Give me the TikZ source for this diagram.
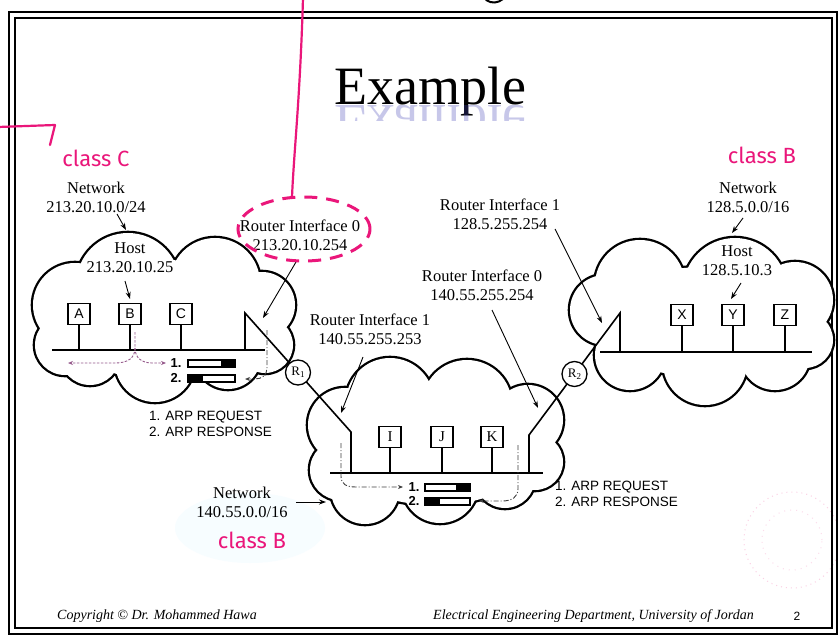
\documentclass[tikz,border=0pt]{standalone}
\usepackage{fontspec}
\usepackage{graphicx}
\setmainfont{Liberation Serif}
\setsansfont{Liberation Sans}
\newfontfamily\handfont{Fira Sans}
\usetikzlibrary{arrows.meta,calc}
\definecolor{pencol}{RGB}{234,22,122}
\definecolor{flowcol}{RGB}{150,90,140}
\newcommand\mycloud[1]{%
  \foreach \cx/\cy/\rx/\ry in {#1} {\draw[line width=4.6pt] (\cx,\cy) ellipse[x radius=\rx pt, y radius=\ry pt];}
  \foreach \cx/\cy/\rx/\ry in {#1} {\fill[white] (\cx,\cy) ellipse[x radius=\rx pt, y radius=\ry pt];}}
\begin{document}
\begin{tikzpicture}[x=1pt,y=-1pt,
  lbl/.style={align=center, inner sep=0pt, font=\fontsize{16.5}{19}\selectfont},
  arp/.style={align=left, anchor=west, inner sep=0pt, font=\sffamily\fontsize{13.5}{16}\selectfont},
  hostbox/.style={draw, line width=1.4pt, minimum width=22pt, minimum height=21pt, inner sep=0pt, fill=white, font=\sffamily\fontsize{14}{14}\selectfont},
  hostboxs/.style={hostbox, font=\fontsize{15}{15}\selectfont},
  rtr/.style={draw, circle, line width=1.3pt, minimum size=25pt, inner sep=0pt, fill=white, font=\fontsize{13}{13}\selectfont},
  wire/.style={line width=1.6pt},
  busline/.style={line width=2.3pt},
  lblarrow/.style={-{Stealth[length=7pt,width=5pt]}, line width=0.9pt},
  flowL/.style={-{Stealth[length=5pt,width=4pt]}, line width=0.9pt, flowcol, dash pattern=on 2.5pt off 1.5pt},
  flowD/.style={-{Stealth[length=5pt,width=4pt]}, line width=0.9pt, black!75, dash pattern=on 5pt off 2pt on 1pt off 2pt},
  num/.style={inner sep=0pt, font=\sffamily\bfseries\fontsize{13}{13}\selectfont},
  pen/.style={text=pencol, inner sep=0pt, font=\handfont\fontsize{22}{22}\selectfont},
  foot/.style={inner sep=0pt, anchor=west, font=\itshape\fontsize{14}{14}\selectfont}
]
\useasboundingbox (0,0) rectangle (838,639);
\fill[white] (0,0) rectangle (838,639);

% faint scan marks
\fill[cyan!3] (250,528) ellipse[x radius=75pt, y radius=35pt];
\draw[pencol!20, line width=1pt, dash pattern=on 1pt off 4pt] (792,540) circle[radius=48pt];
\draw[pencol!15, line width=1pt, dash pattern=on 1pt off 5pt] (792,540) circle[radius=30pt];

% frame
\draw[line width=2.6pt] (9,12) rectangle (837,634);
\draw[line width=1.6pt] (15,18) rectangle (832,628);

% title with reflection
\node[anchor=base, inner sep=0pt, font=\fontsize{54}{54}\selectfont] (title) at (430,105) {Example};
\begin{scope}
  \clip (300,106) rectangle (560,121);
  \node[anchor=base, inner sep=0pt, font=\fontsize{54}{54}\selectfont, text=blue!45!gray, opacity=0.3] (titlerefl) at (430,106) {\scalebox{1}[-1]{Example}};
\end{scope}

% clouds
\mycloud{165/320/110/60, 128/285/52/52, 215/283/45/45, 75/305/42/42, 65/345/30/30, 90/355/30/30, 155/362/40/40, 228/356/33/33, 262/305/33/33, 265/345/28/28}
\mycloud{435/445/105/60, 390/402/44/44, 467/405/45/45, 345/425/37/37, 340/470/30/30, 365/490/34/34, 440/485/38/38, 505/478/30/30, 528/420/35/35, 535/462/28/28}
\mycloud{705/322/110/55, 640/285/45/45, 735/290/52/52, 605/310/35/35, 795/300/38/38, 805/340/28/28, 630/355/35/35, 705/363/42/42, 775/355/35/35}

% ---------- left network ----------
\coordinate (bl1) at (52,350);
\coordinate (bl2) at (265,350);
\draw[busline] (bl1) -- (bl2);
\node[hostbox] (A) at (79,314) {A};
\node[hostbox] (B) at (130,314) {B};
\node[hostbox] (C) at (181,314) {C};
\foreach \h in {A,B,C} {\draw[wire] (\h.south) -- (\h.south |- bl1);}

% ---------- centre network ----------
\coordinate (bc1) at (330,473);
\coordinate (bc2) at (543,473);
\draw[busline] (bc1) -- (bc2);
\node[hostboxs] (I) at (390,437) {I};
\node[hostboxs] (J) at (442,437) {J};
\node[hostboxs] (K) at (492,437) {K};
\foreach \h in {I,J,K} {\draw[wire] (\h.south) -- (\h.south |- bc1);}

% ---------- right network ----------
\coordinate (br1) at (600,352);
\coordinate (br2) at (812,352);
\draw[busline] (br1) -- (br2);
\node[hostbox] (X) at (682,315) {X};
\node[hostbox] (Y) at (733,315) {Y};
\node[hostbox] (Z) at (785,315) {Z};
\foreach \h in {X,Y,Z} {\draw[wire] (\h.south) -- (\h.south |- br1);}

% ---------- routers ----------
\coordinate (r1a) at (245,313);
\coordinate (r1b) at (351,432);
\coordinate (r2a) at (620,313);
\coordinate (r2b) at (529,435);
\draw[wire] (r1a |- bl1) -- (r1a) -- (r1b) -- (r1b |- bc1);
\draw[wire] (r2a |- br1) -- (r2a) -- (r2b) -- (r2b |- bc1);
\node[rtr] (R1) at ($(r1a)!0.5!(r1b)$) {R\raisebox{-0.35ex}{\fontsize{9}{9}\selectfont 1}};
\node[rtr] (R2) at ($(r2a)!0.5!(r2b)$) {R\raisebox{-0.35ex}{\fontsize{9}{9}\selectfont 2}};

% ---------- packets left ----------
\node[num] (n1L) at (176,363) {1.};
\node[num] (n2L) at (176,378) {2.};
\draw[line width=1.1pt, fill=white] (188,360) rectangle (235,367);
\fill (221,360) rectangle (235,367);
\draw[line width=1.1pt, fill=white] (188,375) rectangle (235,382);
\fill (188,375) rectangle (203,382);
\coordinate (fl0) at (135,332);
\coordinate (flL) at (68,363);
\coordinate (flR) at (166,363);
\draw[flowL] (fl0) -- (135,348) .. controls (135,358) and (128,363) .. (115,363) -- (flL);
\draw[flowL] (135,348) .. controls (135,358) and (142,363) .. (152,363) -- (flR);
\coordinate (fr0) at (267,330);
\coordinate (fr1) at (245,379);
\draw[flowD] (fr0) -- (267,368) .. controls (267,375) and (262,379) .. (255,379) -- (fr1);

% ---------- packets centre ----------
\node[num] (n1C) at (414,487) {1.};
\node[num] (n2C) at (414,501) {2.};
\draw[line width=1.1pt, fill=white] (425,484) rectangle (470,491);
\fill (456,484) rectangle (470,491);
\draw[line width=1.1pt, fill=white] (425,498) rectangle (470,505);
\fill (425,498) rectangle (440,505);
\coordinate (fc0) at (341,443);
\coordinate (fc1) at (403,487);
\draw[flowD] (fc0) -- (341,476) .. controls (341,484) and (346,487) .. (356,487) -- (fc1);
\coordinate (fd0) at (518,445);
\coordinate (fd1) at (479,501);
\draw[flowD] (fd0) -- (518,489) .. controls (518,497) and (512,501) .. (502,501) -- (fd1);

% ---------- ARP texts ----------
\node[arp] (arpL) at (149,424) {1. ARP REQUEST\\2. ARP RESPONSE};
\node[arp] (arpC) at (555,494) {1. ARP REQUEST\\2. ARP RESPONSE};

% ---------- labels ----------
\node[lbl] (netC) at (96,197) {Network\\213.20.10.0/24};
\node[lbl] (hostC) at (130,258) {Host\\213.20.10.25};
\node[lbl] (ri0L) at (300,235) {Router Interface 0\\213.20.10.254};
\node[lbl] (ri1C) at (370,329) {Router Interface 1\\140.55.255.253};
\node[lbl] (ri0C) at (482,285) {Router Interface 0\\140.55.255.254};
\node[lbl] (ri1R) at (500,214) {Router Interface 1\\128.5.255.254};
\node[lbl] (netR) at (748,197) {Network\\128.5.0.0/16};
\node[lbl] (hostR) at (737,261) {Host\\128.5.10.3};
\node[lbl] (netM) at (242,502) {Network\\140.55.0.0/16};

\coordinate (e1) at (126,230);
\coordinate (e2) at (130,299);
\coordinate (e3) at (263,318);
\coordinate (e4) at (341,413);
\coordinate (e5) at (538,408);
\coordinate (e6) at (602,323);
\coordinate (e7) at (732,233);
\coordinate (e8) at (731,299);
\coordinate (e9) at (326,502);
\draw[lblarrow] (117,214) -- (e1);
\draw[lblarrow] (125,281) -- (e2);
\draw[lblarrow] (296,262) -- (e3);
\draw[lblarrow] (363,357) -- (e4);
\draw[lblarrow] (492,310) -- (e5);
\draw[lblarrow] (555,229) -- (e6);
\draw[lblarrow] (743,218) -- (e7);
\draw[lblarrow] (741,283) -- (e8);
\draw[lblarrow] (netM.east) ++(8,0) -- (e9);

% ---------- footer ----------
\node[foot] (copy) at (57,616) {Copyright \textcopyright\ Dr. Mohammed Hawa};
\node[foot] (dept) at (433,616) {Electrical Engineering Department, University of Jordan};
\node[inner sep=0pt, font=\sffamily\fontsize{12}{12}\selectfont] (pg) at (797,616) {2};

% ---------- handwritten annotations ----------
\node[pen] (clC) at (96,158) {class C};
\node[pen] (clB1) at (762,155) {class B};
\node[pen] (clB2) at (252,540) {class B};
\draw[pencol, line width=3pt, dash pattern=on 13pt off 9pt] (304,229) ellipse[x radius=66pt, y radius=32pt];
\draw[pencol, line width=2.2pt, line cap=round] (303,-2) .. controls (300,100) and (294,150) .. (292,197);
\draw[pencol, line width=2.2pt, line cap=round, line join=round] (-2,127) -- (55,125) -- (50,145);
\draw[line width=2pt, line cap=round] (486,0) .. controls (492,4) and (498,3) .. (503,-1);
\end{tikzpicture}
\end{document}
